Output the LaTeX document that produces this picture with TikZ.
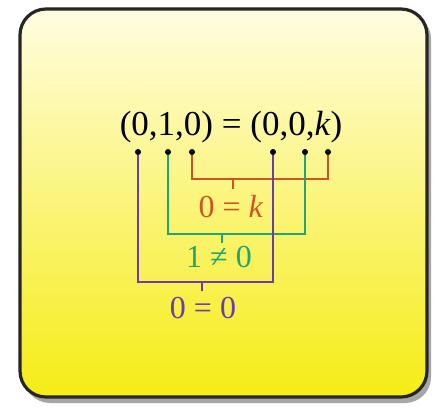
\documentclass[tikz,border=0pt]{standalone}
\usepackage{fontspec}
\setmainfont{Liberation Serif}
\begin{document}
\definecolor{oline}{RGB}{205,85,35}
\definecolor{gline}{RGB}{30,165,120}
\definecolor{pline}{RGB}{105,60,175}
\definecolor{ybot}{RGB}{246,236,20}
\definecolor{ytop}{RGB}{255,253,225}
\begin{tikzpicture}[x=1pt,y=-1pt,
  conn/.style={line width=2.8pt},
  toplbl/.style={font=\fontsize{35}{37}\selectfont, inner sep=0pt},
  lbl/.style={font=\fontsize{32}{34}\selectfont, inner sep=0pt},
  dot/.style={fill=black}]
\useasboundingbox (0,0) rectangle (435,408);
\fill[white] (0,0) rectangle (435,408);
\fill[black!35, rounded corners=26pt] (24,13) rectangle (431,403);
\draw[line width=3.2pt, draw=black!85, rounded corners=26pt, top color=ytop, bottom color=ybot] (20,9) rectangle (427,397);
\node[toplbl] (eq) at (231,127) {(0,1,0) = (0,0,\textit{k})};
\coordinate (d1) at (138,152);
\coordinate (d2) at (168,152);
\coordinate (d3) at (192,152);
\coordinate (d4) at (273,152);
\coordinate (d5) at (305,152);
\coordinate (d6) at (328,152);
% orange
\coordinate (ob) at (233,179);
\coordinate (ot) at (233,189);
\draw[conn, oline] (d3) |- (ob) -| (d6);
\draw[conn, oline] (ob) -- (ot);
\node[lbl, text=oline] (lo) at (231,207) {0 = \textit{k}};
% green
\coordinate (gb) at (222,234);
\coordinate (gt) at (222,243);
\draw[conn, gline] (d2) |- (gb) -| (d5);
\draw[conn, gline] (gb) -- (gt);
\node[lbl, text=gline] (lg) at (219,257) {1 ≠ 0};
% purple
\coordinate (pb) at (202,282);
\coordinate (pt) at (202,291);
\draw[conn, pline] (d1) |- (pb) -| (d4);
\draw[conn, pline] (pb) -- (pt);
\node[lbl, text=pline] (lp) at (203,308) {0 = 0};
\foreach \d in {d1,d2,d3,d4,d5,d6} \fill[dot] (\d) circle (3pt);
\end{tikzpicture}
\end{document}
